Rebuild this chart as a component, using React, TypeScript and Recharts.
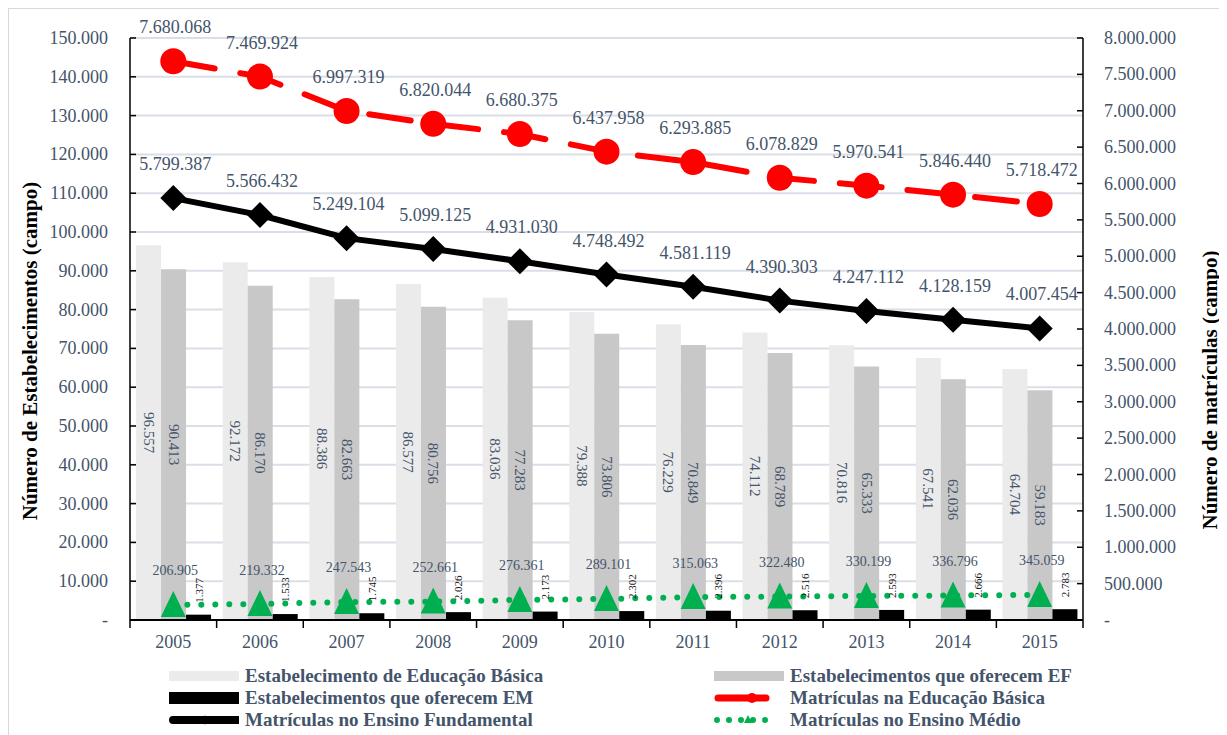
import React from 'react'
import { ComposedChart, Bar, Line, XAxis, YAxis, CartesianGrid, LabelList } from 'recharts'

const years = ['2005', '2006', '2007', '2008', '2009', '2010', '2011', '2012', '2013', '2014', '2015']

// estabelecimentos (eixo esquerdo)
const estabBasica = [96557, 92172, 88386, 86577, 83036, 79388, 76229, 74112, 70816, 67541, 64704]
const estabEF = [90413, 86170, 82663, 80756, 77283, 73806, 70849, 68789, 65333, 62036, 59183]
const estabEM = [1377, 1533, 1745, 2026, 2173, 2302, 2396, 2516, 2593, 2666, 2783]

// matrículas (eixo direito)
const matBasica = [7680068, 7469924, 6997319, 6820044, 6680375, 6437958, 6293885, 6078829, 5970541, 5846440, 5718472]
const matEF = [5799387, 5566432, 5249104, 5099125, 4931030, 4748492, 4581119, 4390303, 4247112, 4128159, 4007454]
const matEM = [206905, 219332, 247543, 252661, 276361, 289101, 315063, 322480, 330199, 336796, 345059]

const leftTicks = [0, 10000, 20000, 30000, 40000, 50000, 60000, 70000, 80000, 90000, 100000, 110000, 120000, 130000, 140000, 150000]
const rightTicks = [0, 500000, 1000000, 1500000, 2000000, 2500000, 3000000, 3500000, 4000000, 4500000, 5000000, 5500000, 6000000, 6500000, 7000000, 7500000, 8000000]

const data = years.map((year, i) => ({
  year,
  estabBasica: estabBasica[i],
  estabEF: estabEF[i],
  estabEM: estabEM[i],
  matBasica: matBasica[i],
  matEF: matEF[i],
  matEM: matEM[i],
}))

const SERIF = '"Liberation Serif", "Times New Roman", serif'
const SLATE = '#44546a'

const fmt = (v: number) => (v === 0 ? '-' : String(v).replace(/\B(?=(\d{3})+(?!\d))/g, '.'))

const box = (props: any) => {
  const vb = props.viewBox ?? props
  return { x: vb.x ?? 0, y: vb.y ?? 0, width: vb.width ?? 0, height: vb.height ?? 0 }
}

const BarCenterLabel = (props: any) => {
  const { x, y, width, height } = box(props)
  const cx = x + width / 2
  const cy = y + height / 2
  return (
    <text x={cx} y={cy} transform={`rotate(90 ${cx} ${cy})`} textAnchor="middle" dominantBaseline="central"
      fill={SLATE} fontSize={15} fontFamily={SERIF}>
      {fmt(props.value)}
    </text>
  )
}

const BarTopLabel = (props: any) => {
  const { x, y, width, height } = box(props)
  const cx = x + width / 2
  const top = Math.min(y, y + height) - 12
  return (
    <text x={cx} y={top} transform={`rotate(-90 ${cx} ${top})`} textAnchor="start" dominantBaseline="central"
      fill="#111" fontSize={11} fontFamily={SERIF}>
      {fmt(props.value)}
    </text>
  )
}

const PointLabel = (fontSize: number) => (props: any) => {
  const { x, y } = box(props)
  return (
    <text x={x + 2} y={y - 34} textAnchor="middle" dominantBaseline="central" fill={SLATE}
      fontSize={fontSize} fontFamily={SERIF}>
      {fmt(props.value)}
    </text>
  )
}

const CircleDot = (props: any) => <circle key={props.index} cx={props.cx} cy={props.cy} r={13} fill="#ff0000" />

const DiamondDot = (props: any) => {
  const { cx, cy } = props
  return <path key={props.index} d={`M${cx},${cy - 13} L${cx + 13},${cy} L${cx},${cy + 13} L${cx - 13},${cy} Z`} fill="#000" />
}

const TriangleDot = (props: any) => {
  const { cx, cy } = props
  return <path key={props.index} d={`M${cx},${cy - 14} L${cx + 12.5},${cy + 12} L${cx - 12.5},${cy + 12} Z`} fill="#00b050" />
}

const YearTick = (props: any) => {
  const { x, y, payload, index } = props
  const half = payload?.offset ?? 0
  return (
    <g>
      <line x1={x - half} x2={x - half} y1={y} y2={y + 8} stroke="#000" strokeWidth={1.5} />
      {index === years.length - 1 && <line x1={x + half} x2={x + half} y1={y} y2={y + 8} stroke="#000" strokeWidth={1.5} />}
      <text x={x} y={y + 22} textAnchor="middle" dominantBaseline="central" fill={SLATE} fontSize={18} fontFamily={SERIF}>
        {payload.value}
      </text>
    </g>
  )
}

const LeftTick = (props: any) => {
  const { x, y, payload } = props
  return (
    <g>
      <line x1={x} x2={x + 6} y1={y} y2={y} stroke="#000" strokeWidth={1.5} />
      <text x={x - 22} y={y} textAnchor="end" dominantBaseline="central" fill={SLATE} fontSize={18} fontFamily={SERIF}>
        {fmt(payload.value)}
      </text>
    </g>
  )
}

const RightTick = (props: any) => {
  const { x, y, payload } = props
  return (
    <g>
      <line x1={x - 6} x2={x} y1={y} y2={y} stroke="#000" strokeWidth={1.5} />
      <text x={x + 21} y={y} textAnchor="start" dominantBaseline="central" fill={SLATE} fontSize={18} fontFamily={SERIF}>
        {fmt(payload.value)}
      </text>
    </g>
  )
}

const AxisTitle = (dx: number, dy: number, text: string) => (props: any) => {
  const { x, y, height } = box(props)
  const cx = x + dx
  const cy = y + height / 2 + dy
  return (
    <text x={cx} y={cy} transform={`rotate(-90 ${cx} ${cy})`} textAnchor="middle" dominantBaseline="central"
      fill="#000" fontSize={21} fontWeight="bold" fontFamily={SERIF}>
      {text}
    </text>
  )
}

type LegendItem = { label: string; swatch: React.ReactNode; left: number; top: number }

const legendItems: LegendItem[] = [
  { label: 'Estabelecimento de Educação Básica', left: 160, top: 657, swatch: <rect x={0} y={2} width={70} height={10} fill="#ebebeb" /> },
  { label: 'Estabelecimentos que oferecem EF', left: 705, top: 657, swatch: <rect x={0} y={2} width={70} height={10} fill="#c8c8c8" /> },
  { label: 'Estabelecimentos que oferecem EM', left: 160, top: 679, swatch: <rect x={0} y={1} width={70} height={12} fill="#000" /> },
  {
    label: 'Matrículas na Educação Básica', left: 705, top: 679,
    swatch: (
      <g>
        <line x1={4} x2={52} y1={7} y2={7} stroke="#ff0000" strokeWidth={7} strokeLinecap="round" />
        <circle cx={38} cy={7} r={5} fill="#ff0000" />
      </g>
    ),
  },
  {
    label: 'Matrículas no Ensino Fundamental', left: 160, top: 701,
    swatch: (
      <g>
        <line x1={4} x2={70} y1={7} y2={7} stroke="#000" strokeWidth={8} strokeLinecap="round" />
        <path d="M36,2 L38,7 L36,12 L34,7 Z" fill="#000" />
      </g>
    ),
  },
  {
    label: 'Matrículas no Ensino Médio', left: 705, top: 701,
    swatch: (
      <g>
        <line x1={3} x2={56} y1={7} y2={7} stroke="#00b050" strokeWidth={6} strokeDasharray="0 12" strokeLinecap="round" />
        <path d="M34,2 L38,10 L30,10 Z" fill="#00b050" />
      </g>
    ),
  },
]

export default function App() {
  return (
    <div style={{ position: 'relative', width: 1215, height: 740, border: '1px solid #d9d9d9', boxSizing: 'border-box', background: '#fff', fontFamily: SERIF }}>
      <ComposedChart width={1213} height={655} data={data} margin={{ top: 29, right: 0, bottom: 0, left: 0 }}
        barCategoryGap="7%" barGap={0} style={{ fontFamily: SERIF }}>
        <CartesianGrid yAxisId="left" vertical={false} stroke="#dadee6" strokeWidth={2} />
        <XAxis dataKey="year" height={44} tickSize={0} tickMargin={0} tickLine={false} tick={<YearTick />}
          interval={0} axisLine={{ stroke: '#000', strokeWidth: 2 }} />
        <YAxis yAxisId="left" width={121} domain={[0, 150000]} ticks={leftTicks} interval={0} tickSize={0} tickMargin={0}
          tickLine={false} tick={<LeftTick />} axisLine={{ stroke: '#000', strokeWidth: 1.5 }}
          label={{ content: AxisTitle(21, 22, 'Número de Estabelecimentos (campo)') }} />
        <YAxis yAxisId="right" orientation="right" width={139} domain={[0, 8000000]} ticks={rightTicks} interval={0}
          tickSize={0} tickMargin={0} tickLine={false} tick={<RightTick />} axisLine={{ stroke: '#000', strokeWidth: 1.5 }}
          label={{ content: AxisTitle(127, 61, 'Número de matrículas (campo)') }} />

        <Bar yAxisId="left" dataKey="estabBasica" fill="#ebebeb" isAnimationActive={false}>
          <LabelList dataKey="estabBasica" content={BarCenterLabel} />
        </Bar>
        <Bar yAxisId="left" dataKey="estabEF" fill="#c8c8c8" isAnimationActive={false}>
          <LabelList dataKey="estabEF" content={BarCenterLabel} />
        </Bar>
        <Bar yAxisId="left" dataKey="estabEM" fill="#000" isAnimationActive={false}>
          <LabelList dataKey="estabEM" content={BarTopLabel} />
        </Bar>

        <Line yAxisId="right" dataKey="matBasica" stroke="#ff0000" strokeWidth={6} strokeDasharray="42 26"
          strokeLinecap="round" dot={CircleDot} activeDot={false} isAnimationActive={false}>
          <LabelList dataKey="matBasica" content={PointLabel(18)} />
        </Line>
        <Line yAxisId="right" dataKey="matEF" stroke="#000" strokeWidth={6} dot={DiamondDot} activeDot={false}
          isAnimationActive={false}>
          <LabelList dataKey="matEF" content={PointLabel(18)} />
        </Line>
        <Line yAxisId="right" dataKey="matEM" stroke="#00b050" strokeWidth={6} strokeDasharray="0 14"
          strokeLinecap="round" dot={TriangleDot} activeDot={false} isAnimationActive={false}>
          <LabelList dataKey="matEM" content={PointLabel(14)} />
        </Line>
      </ComposedChart>

      {legendItems.map((item) => (
        <div key={item.label} style={{ position: 'absolute', left: item.left, top: item.top, height: 20, display: 'flex', alignItems: 'center' }}>
          <svg width={70} height={14} style={{ display: 'block', marginRight: 6 }}>{item.swatch}</svg>
          <span style={{ fontFamily: SERIF, fontWeight: 'bold', fontSize: 19, color: SLATE, whiteSpace: 'nowrap' }}>{item.label}</span>
        </div>
      ))}
    </div>
  )
}
